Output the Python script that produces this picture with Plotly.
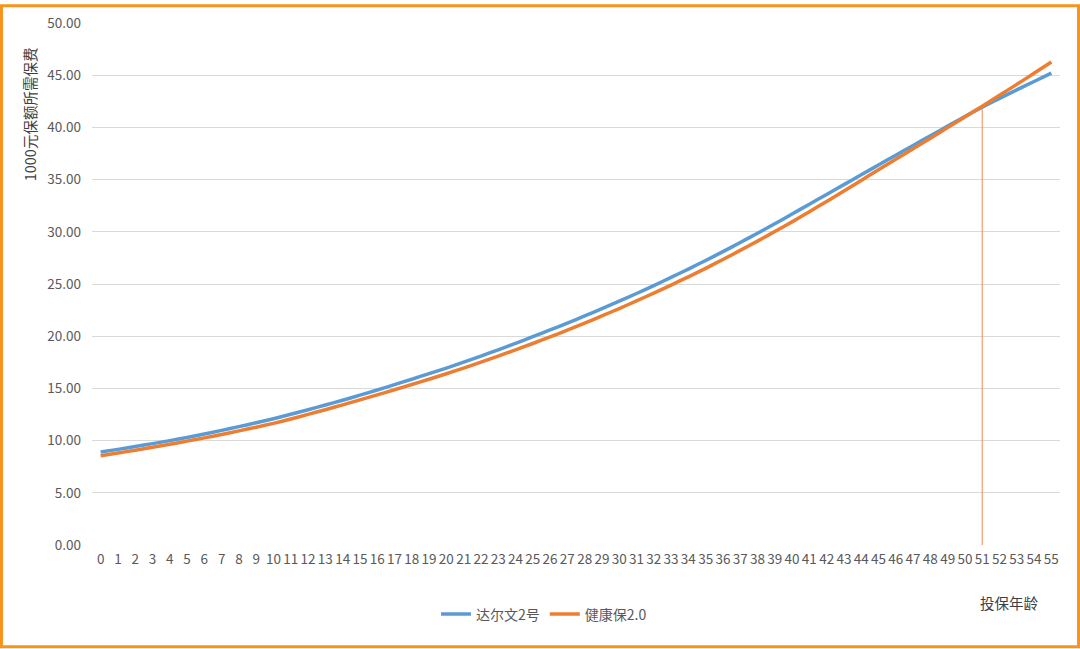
import plotly.graph_objects as go

# 投保年龄 0-55
ages = list(range(56))

# 1000元保额所需保费
darwin2 = [8.90, 9.16, 9.43, 9.71, 10.00, 10.30, 10.63, 10.98, 11.34, 11.71,
           12.10, 12.52, 12.96, 13.41, 13.87, 14.35, 14.85, 15.36, 15.88, 16.41,
           16.95, 17.52, 18.10, 18.70, 19.32, 19.95, 20.60, 21.26, 21.94, 22.64,
           23.35, 24.09, 24.85, 25.63, 26.43, 27.25, 28.10, 28.97, 29.86, 30.77,
           31.70, 32.64, 33.58, 34.52, 35.46, 36.40, 37.34, 38.27, 39.20, 40.12,
           41.05, 41.93, 42.78, 43.60, 44.40, 45.20]

jiankangbao = [8.55, 8.81, 9.08, 9.36, 9.65, 9.95, 10.26, 10.59, 10.93, 11.28,
               11.65, 12.07, 12.51, 12.96, 13.42, 13.90, 14.38, 14.87, 15.37, 15.88,
               16.40, 16.95, 17.52, 18.10, 18.69, 19.30, 19.93, 20.58, 21.25, 21.94,
               22.65, 23.38, 24.13, 24.90, 25.69, 26.50, 27.35, 28.22, 29.11, 30.02,
               30.95, 31.92, 32.91, 33.91, 34.92, 35.95, 36.95, 37.96, 38.97, 39.98,
               41.00, 42.03, 43.07, 44.12, 45.18, 46.26]

series_names = ["达尔文2号", "健康保2.0"]
cross_age = 51  # age where the two curves meet

FONT = "Noto Sans CJK SC"
GREY = "#595959"
W, H = 1080, 649
ML, MR, MT, MB = 92, 20, 19, 104
PW, PH = W - ML - MR, H - MT - MB

fig = go.Figure()

# marker line at the crossing age
fig.add_trace(go.Scatter(
    x=[cross_age, cross_age], y=[0, darwin2[cross_age]],
    mode="lines", line=dict(color="#F08A4B", width=1),
    showlegend=False, hoverinfo="skip"))

fig.add_trace(go.Scatter(
    x=ages, y=darwin2, name=series_names[0], mode="lines",
    line=dict(color="#5B9BD5", width=3.5, shape="spline", smoothing=0.6)))
fig.add_trace(go.Scatter(
    x=ages, y=jiankangbao, name=series_names[1], mode="lines",
    line=dict(color="#ED7D31", width=3.5, shape="spline", smoothing=0.6)))

fig.update_xaxes(
    range=[-0.5, 55.5], tickmode="array", tickvals=ages,
    ticktext=[str(a) for a in ages], showgrid=False, zeroline=False,
    showline=False, ticks="", ticklabelstandoff=4,
    tickfont=dict(family=FONT, size=13.5, color=GREY))
fig.update_yaxes(
    range=[0, 50], dtick=5, tickformat=".2f", showgrid=True,
    gridcolor="#D9D9D9", gridwidth=1, zeroline=False, showline=False,
    ticks="", ticklabelstandoff=10,
    tickfont=dict(family=FONT, size=13.5, color=GREY))

fig.update_layout(
    width=W, height=H,
    margin=dict(l=ML, r=MR, t=MT, b=MB),
    paper_bgcolor="white", plot_bgcolor="white",
    font=dict(family=FONT, size=13, color=GREY),
    legend=dict(orientation="h", x=(544 - ML) / PW, xanchor="center",
                y=(545 - 615) / PH, yanchor="middle",
                font=dict(family=FONT, size=14, color=GREY)),
    annotations=[
        dict(text="1000元保额所需保费", xref="paper", yref="paper",
             x=(29 - ML) / PW, y=(MT + PH - 111) / PH, textangle=-90,
             showarrow=False, font=dict(family=FONT, size=14.5, color="#404040"),
             xanchor="center", yanchor="middle"),
        dict(text="投保年龄", xref="paper", yref="paper",
             x=(1009 - ML) / PW, y=(MT + PH - 603) / PH, showarrow=False,
             font=dict(family=FONT, size=14.5, color="#404040"),
             xanchor="center", yanchor="middle"),
    ],
    shapes=[dict(type="rect", xref="paper", yref="paper",
                 x0=(1.5 - ML) / PW, x1=(W - 1.5 - ML) / PW,
                 y0=(MT + PH - (H - 1.5)) / PH, y1=(MT + PH - 1.5) / PH,
                 line=dict(color="#F7941D", width=3), layer="above")],
)

fig.write_html(
    "out.html",
    config={"displayModeBar": False},
    post_script="document.body.style.margin='0';"
                "document.body.style.overflow='hidden';")
